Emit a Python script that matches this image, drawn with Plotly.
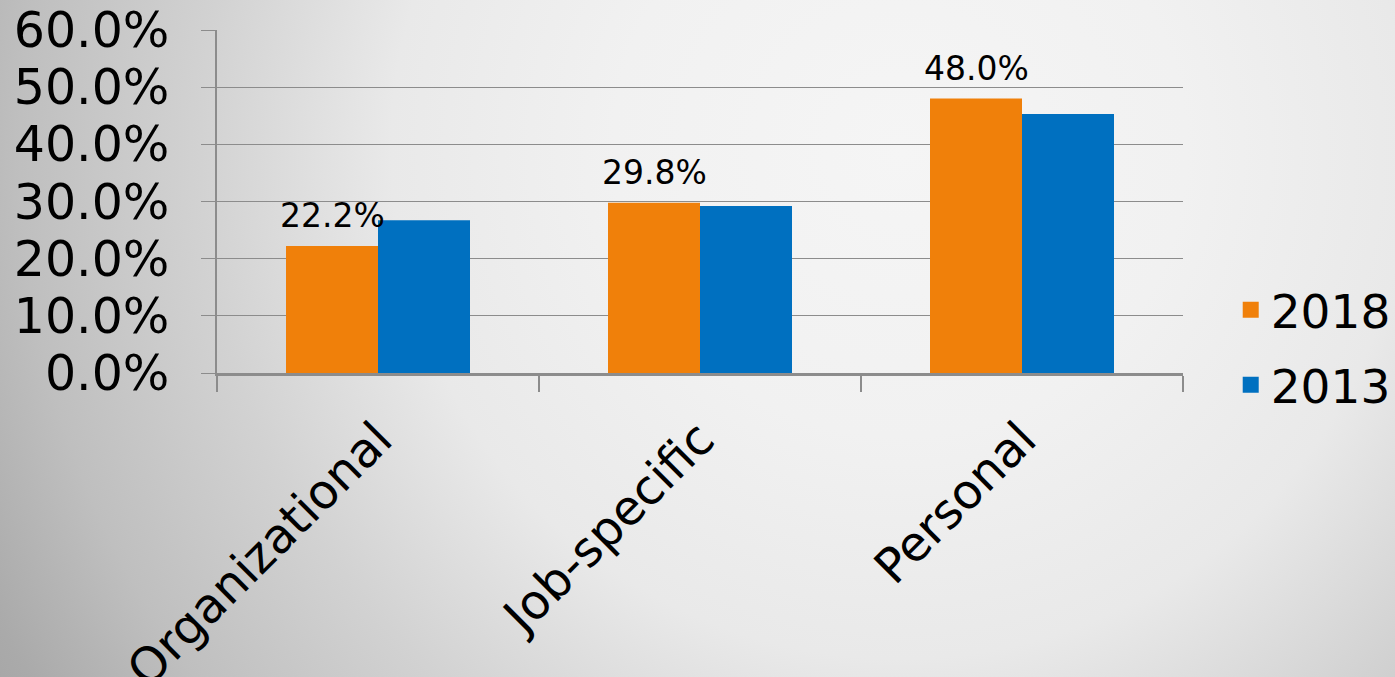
import plotly.graph_objects as go
import urllib.parse

categories = ["Organizational", "Job-specific", "Personal"]
series_names = ["2018", "2013"]
values_2018 = [0.222, 0.298, 0.480]
values_2013 = [0.267, 0.292, 0.453]
colors = ["#F0800A", "#0070C0"]
y_ticks = [0, 0.1, 0.2, 0.3, 0.4, 0.5, 0.6]

W, H = 1395, 677
ML, MR, MT, MB = 217, 212, 30, 304
PW, PH = W - ML - MR, H - MT - MB

svg = (
    f'<svg xmlns="http://www.w3.org/2000/svg" width="{W}" height="{H}" viewBox="0 0 {W} {H}" preserveAspectRatio="none">'
    '<defs><radialGradient id="g" gradientUnits="userSpaceOnUse" cx="900" cy="150" r="1060">'
    '<stop offset="0" stop-color="#f5f5f5"/>'
    '<stop offset="0.27" stop-color="#f1f1f1"/>'
    '<stop offset="0.48" stop-color="#e9e9e9"/>'
    '<stop offset="0.66" stop-color="#d2d2d2"/>'
    '<stop offset="0.83" stop-color="#bfbfbf"/>'
    '<stop offset="0.96" stop-color="#aaaaaa"/>'
    '<stop offset="1" stop-color="#a6a6a6"/>'
    '</radialGradient></defs>'
    f'<rect x="0" y="0" width="{W}" height="{H}" fill="url(#g)"/></svg>'
)
bg_uri = "data:image/svg+xml;charset=utf-8," + urllib.parse.quote(svg)

FONT = "DejaVu Sans"

fig = go.Figure()
fig.add_trace(go.Bar(
    x=categories, y=values_2018, name=series_names[0], marker_color=colors[0],
    marker_line_width=0, showlegend=False, legendgroup="a",
))
fig.add_trace(go.Bar(
    x=categories, y=values_2013, name=series_names[1], marker_color=colors[1],
    marker_line_width=0, showlegend=False, legendgroup="b",
))
for name, c, g in zip(series_names, colors, ["a", "b"]):
    fig.add_trace(go.Scatter(
        x=[None], y=[None], mode="markers", name=name, legendgroup=g,
        marker=dict(symbol="square", size=16, color=c),
    ))

annotations = [
    dict(x=cat, y=v, xref="x", yref="y", text=f"{v*100:.1f}%", showarrow=False,
         xanchor="center", yanchor="bottom", xshift=-46, yshift=9,
         font=dict(family=FONT, size=33, color="black"))
    for cat, v in zip(categories, values_2018)
]

fig.update_layout(
    width=W, height=H,
    margin=dict(l=ML, r=MR, t=MT, b=MB, pad=0, autoexpand=False),
    paper_bgcolor="rgba(0,0,0,0)", plot_bgcolor="rgba(0,0,0,0)",
    barmode="group", bargap=0.4286, bargroupgap=0,
    font=dict(family=FONT, color="black"),
    showlegend=True,
    legend=dict(x=1.0494, y=0.074, xanchor="left", yanchor="middle",
                font=dict(family=FONT, size=47, color="black"),
                bgcolor="rgba(0,0,0,0)", itemwidth=30, traceorder="grouped",
                tracegroupgap=11),
    annotations=annotations,
    images=[dict(source=bg_uri, xref="paper", yref="paper",
                 x=-ML / PW, y=1 + MT / PH, sizex=W / PW, sizey=H / PH,
                 xanchor="left", yanchor="top", sizing="stretch", layer="below")],
)
fig.update_yaxes(
    range=[0, 0.6], tickvals=y_ticks, tickformat=".1%", automargin=False,
    showgrid=True, gridcolor="#8c8c8c", gridwidth=1.3,
    showline=True, linecolor="#8c8c8c", linewidth=1.5,
    ticks="outside", ticklen=14, tickcolor="#8c8c8c", tickwidth=1.3,
    tickfont=dict(family=FONT, size=49, color="black"),
    ticklabelstandoff=22, zeroline=False,
)
fig.update_xaxes(
    showline=True, linecolor="#8c8c8c", linewidth=2.5, automargin=False,
    ticks="outside", ticklen=16, tickcolor="#8c8c8c", tickwidth=2,
    tickson="boundaries", tickangle=-45, ticklabelstandoff=16,
    tickfont=dict(family=FONT, size=48, color="black"),
)

fig.write_html(
    "out.html",
    config={"displayModeBar": False},
    post_script="document.body.style.margin='0';document.body.style.overflow='hidden';",
)
